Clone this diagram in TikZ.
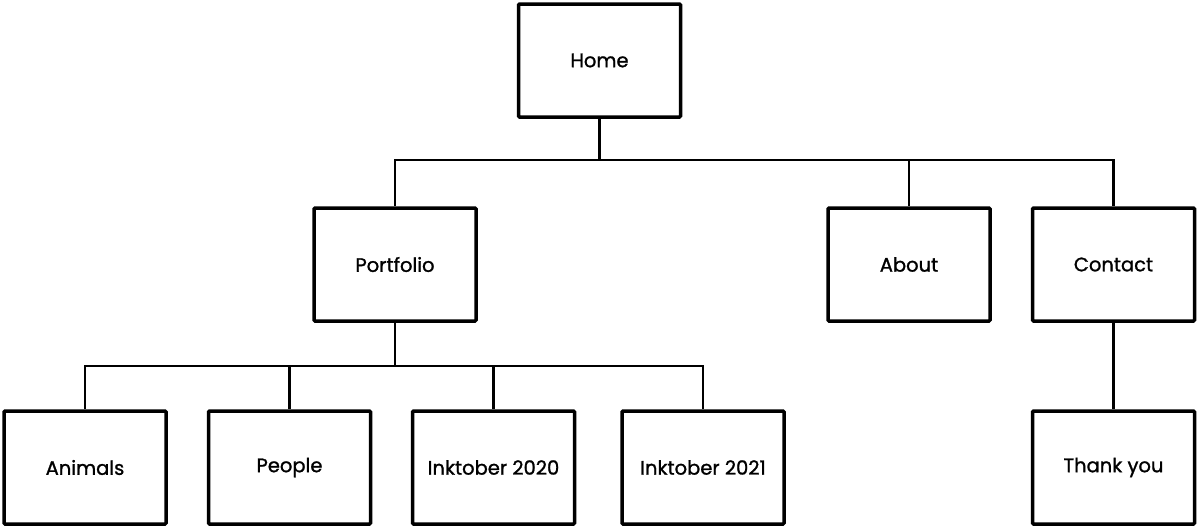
\documentclass[tikz,border=0pt]{standalone}
\usepackage{fontspec}
\setmainfont{Poppins}
\newfontfamily\lblfont{Poppins}[FakeBold=1.2]
\begin{document}
\begin{tikzpicture}[x=1pt,y=-1pt,
  pagebox/.style={draw=black, line width=3.5pt, fill=white, minimum width=162pt, minimum height=113pt, inner sep=0pt, font=\lblfont\fontsize{19.5}{22}\selectfont, rounded corners=1pt},
  conn/.style={draw=black, line width=2.8pt}]
\useasboundingbox (0,0) rectangle (1200,528);
\node[pagebox] (home) at (599.5,60.5) {Home};
\node[pagebox] (portfolio) at (395,264.5) {Portfolio};
\node[pagebox] (about) at (909,264.5) {About};
\node[pagebox] (contact) at (1113.5,264.5) {Contact};
\node[pagebox] (animals) at (85,467.5) {Animals};
\node[pagebox] (people) at (289.5,467.5) {People};
\node[pagebox] (ink20) at (493.5,467.5) {Inktober 2020};
\node[pagebox] (ink21) at (703,467.5) {Inktober 2021};
\node[pagebox] (thanks) at (1113.5,467.5) {Thank you};
\coordinate (bus1) at (599.5,160);
\coordinate (bus2) at (395,366);
\draw[conn] (home.south) -- (bus1);
\draw[conn] (bus1) -| (portfolio.north);
\draw[conn] (bus1) -| (about.north);
\draw[conn] (bus1) -| (contact.north);
\draw[conn] (portfolio.south) -- (bus2);
\draw[conn] (bus2) -| (animals.north);
\draw[conn] (bus2) -| (people.north);
\draw[conn] (bus2) -| (ink20.north);
\draw[conn] (bus2) -| (ink21.north);
\draw[conn] (contact.south) -- (thanks.north);
\end{tikzpicture}
\end{document}
